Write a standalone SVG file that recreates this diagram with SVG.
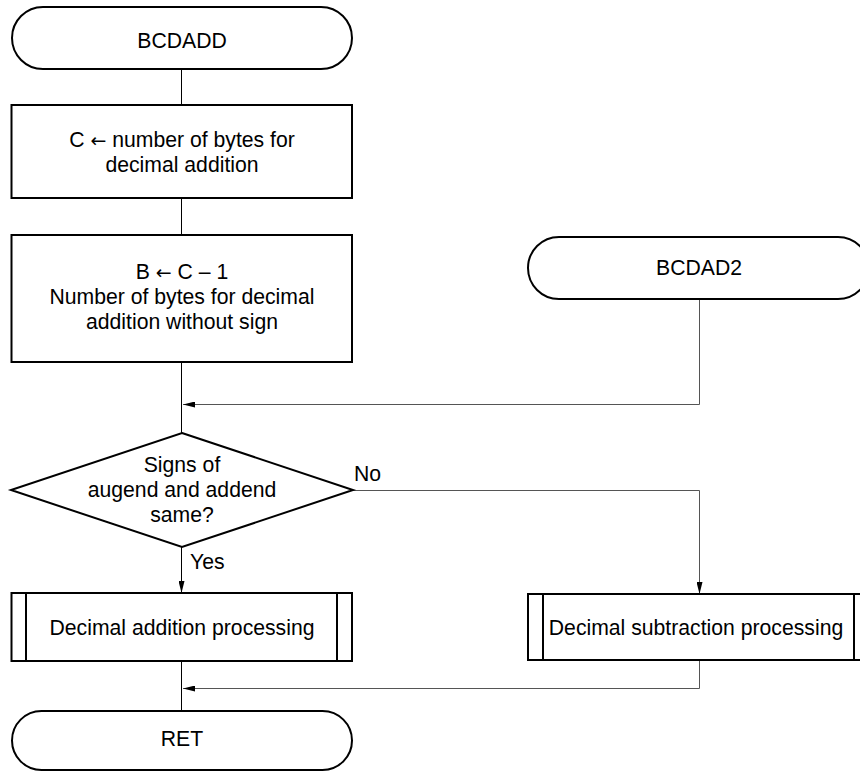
<svg xmlns="http://www.w3.org/2000/svg" width="860" height="772" viewBox="0 0 860 772">
<defs>
<marker id="ah" viewBox="0 0 12 6" refX="12" refY="3" markerWidth="12" markerHeight="6" markerUnits="userSpaceOnUse" orient="auto">
<path d="M0,0 L12,3 L0,6 Z" fill="#000"/>
</marker>
</defs>
<style>
.sh{fill:#fff;stroke:#000;stroke-width:2}
.ln{fill:none;stroke:#000;stroke-width:1}
.lg{fill:none;stroke:#555;stroke-width:1}
text{font-family:"Liberation Sans",Arial,sans-serif;font-size:21.2px;fill:#000}
.c{text-anchor:middle}
.ar{font-family:"DejaVu Sans",sans-serif;font-size:19px}
</style>
<rect width="860" height="772" fill="#fff"/>
<g id="connectors">
<line class="ln" x1="181.5" y1="69" x2="181.5" y2="105"/>
<line class="ln" x1="181.5" y1="198" x2="181.5" y2="235"/>
<line class="ln" x1="181.5" y1="362" x2="181.5" y2="433"/>
<polyline class="lg" points="699.5,299 699.5,404.5 183,404.5" marker-end="url(#ah)"/>
<line class="ln" x1="181.5" y1="547" x2="181.5" y2="593" marker-end="url(#ah)"/>
<polyline class="lg" points="353,490.5 699.5,490.5 699.5,594" marker-end="url(#ah)"/>
<line class="ln" x1="181.5" y1="661" x2="181.5" y2="711"/>
<polyline class="lg" points="699.5,660 699.5,688.5 183,688.5" marker-end="url(#ah)"/>
<text x="354" y="481">No</text>
<text x="190" y="569">Yes</text>
</g>
<g id="start">
<rect class="sh" x="12" y="7" width="340" height="62" rx="31" ry="31"/>
<text class="c" x="182" y="48">BCDADD</text>
</g>
<g id="setC">
<rect class="sh" x="11.5" y="105" width="340.5" height="93"/>
<text class="c" x="182" y="147">C <tspan class="ar">←</tspan> number of bytes for</text>
<text class="c" x="182" y="172">decimal addition</text>
</g>
<g id="setB">
<rect class="sh" x="11.5" y="235" width="340.5" height="127"/>
<text class="c" x="182" y="279">B <tspan class="ar">←</tspan> C – 1</text>
<text class="c" x="182" y="304">Number of bytes for decimal</text>
<text class="c" x="182" y="329">addition without sign</text>
</g>
<g id="bcdad2">
<rect class="sh" x="528" y="237" width="341" height="62" rx="31" ry="31"/>
<text class="c" x="699" y="275">BCDAD2</text>
</g>
<g id="decision">
<polygon class="sh" points="182,433 353,490 182,547 11,490"/>
<text class="c" x="182" y="472">Signs of</text>
<text class="c" x="182" y="497">augend and addend</text>
<text class="c" x="182" y="522">same?</text>
</g>
<g id="addproc">
<rect class="sh" x="11.5" y="593" width="340.5" height="68"/>
<line class="sh" x1="26" y1="593" x2="26" y2="661"/>
<line class="sh" x1="337" y1="593" x2="337" y2="661"/>
<text class="c" x="182" y="635">Decimal addition processing</text>
</g>
<g id="subproc">
<rect class="sh" x="528" y="594" width="341" height="66"/>
<line class="sh" x1="543" y1="594" x2="543" y2="660"/>
<line class="sh" x1="854" y1="594" x2="854" y2="660"/>
<text class="c" x="696" y="635">Decimal subtraction processing</text>
</g>
<g id="ret">
<rect class="sh" x="12" y="711" width="340" height="59" rx="29.5" ry="29.5"/>
<text class="c" x="182" y="746">RET</text>
</g>
</svg>
